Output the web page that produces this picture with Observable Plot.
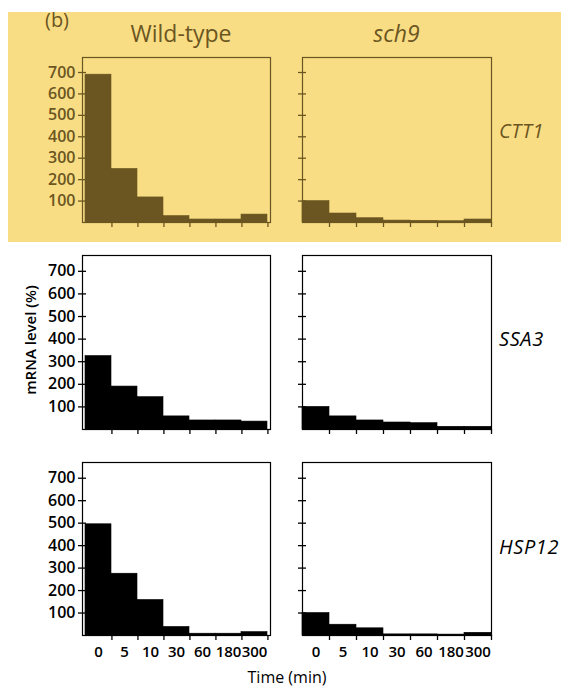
<!DOCTYPE html>
<html>
<head>
<meta charset="utf-8">
<script src="https://cdn.jsdelivr.net/npm/d3@7"></script>
<script src="https://cdn.jsdelivr.net/npm/@observablehq/plot@0.6"></script>
<style>
  html, body { margin: 0; padding: 0; background: #ffffff; }
  #root { position: relative; width: 568px; height: 689px; overflow: hidden; font-family: "Open Sans", sans-serif; }
  .lbl { position: absolute; line-height: 1; white-space: nowrap; transform: translate(-50%, -50%); }
  .lft { position: absolute; line-height: 1; white-space: nowrap; transform: translate(0, -50%); }
  .panel { position: absolute; }
  .panel svg { display: block; overflow: visible; }
</style>
</head>
<body>
<div id="root"></div>
<script>
// ---------------- data ----------------
const times = ["0", "5", "10", "30", "60", "180", "300"];
const genotypes = ["Wild-type", "sch9"];
const genes = ["CTT1", "SSA3", "HSP12"];
const yTicks = [100, 200, 300, 400, 500, 600, 700];

const wildTypeCTT1 = [690, 250, 117, 30, 14, 14, 37];
const sch9CTT1     = [100, 42, 20, 9, 8, 6, 14];
const wildTypeSSA3 = [325, 190, 143, 58, 40, 40, 35];
const sch9SSA3     = [100, 58, 40, 31, 28, 12, 12];
const wildTypeHSP12 = [495, 275, 158, 38, 8, 8, 15];
const sch9HSP12     = [100, 48, 32, 5, 5, 4, 12];

const yLabel = "mRNA level (%)";
const xLabel = "Time (min)";
const panelTag = "(b)";

// ---------------- layout ----------------
const olive = "#6b5621";
const yellow = "#f9dd85";
const black = "#000000";
const yMax = 770;

const rows = [
  {gene: genes[0], series: [wildTypeCTT1, sch9CTT1], top: 57, bottom: 222, color: olive, labelY: 131},
  {gene: genes[1], series: [wildTypeSSA3, sch9SSA3], top: 255, bottom: 429, color: black, labelY: 339},
  {gene: genes[2], series: [wildTypeHSP12, sch9HSP12], top: 462, bottom: 635, color: black, labelY: 547}
];
const cols = [
  {left: 82, right: 270, svgLeft: 0, svgRight: 284, showY: true},
  {left: 302, right: 491, svgLeft: 284, svgRight: 568, showY: false}
];

const root = document.getElementById("root");

// yellow highlight behind the first row
const bg = document.createElement("div");
Object.assign(bg.style, {position: "absolute", left: "8px", top: "12px", width: "553px", height: "230px", background: yellow});
root.appendChild(bg);

function addText(text, x, y, style, cls = "lbl") {
  const d = document.createElement("div");
  d.className = cls;
  d.textContent = text;
  d.style.left = x + "px";
  d.style.top = y + "px";
  Object.assign(d.style, style);
  root.appendChild(d);
  return d;
}

function drawPanel(values, row, col, isLastRow) {
  const mt = 10;
  const mb = isLastRow ? 40 : 12;
  const width = col.svgRight - col.svgLeft;
  const ml = col.left - col.svgLeft;
  const mr = col.svgRight - col.right;
  const height = (row.bottom - row.top) + mt + mb;
  const bw = (col.right - col.left) / times.length;
  const data = values.map((v, i) => ({time: times[i], value: v}));
  const marks = [
    Plot.barY(data, {x: "time", y: "value", fill: row.color, stroke: row.color, strokeWidth: 0.6}),
    Plot.frame({stroke: row.color, strokeWidth: 1.2}),
    Plot.axisY({
      ticks: yTicks, tickSize: 8, dx: 4, tickPadding: 3, label: null,
      tickFormat: col.showY ? (d => String(d)) : (() => ""),
      fontSize: 16, fontWeight: 600, stroke: row.color, fill: row.color, strokeWidth: 1.3
    }),
    Plot.axisX({tickSize: 5, dx: bw / 2, tickFormat: () => "", label: null, stroke: row.color, strokeWidth: 1.3})
  ];
  if (isLastRow) {
    marks.push(Plot.axisX({tickSize: 0, tickPadding: 11, label: null, fontSize: 15, fontWeight: 600, fill: row.color}));
  }
  const svg = Plot.plot({
    width, height,
    marginLeft: ml, marginRight: mr, marginTop: mt, marginBottom: mb,
    x: {type: "band", domain: times, padding: 0},
    y: {domain: [0, yMax]},
    style: {background: "transparent", color: row.color, fontFamily: "'Open Sans', sans-serif", overflow: "visible"},
    marks
  });
  const holder = document.createElement("div");
  holder.className = "panel";
  holder.style.left = col.svgLeft + "px";
  holder.style.top = (row.top - mt) + "px";
  holder.appendChild(svg);
  root.appendChild(holder);
}

rows.forEach((row, r) => {
  cols.forEach((col, c) => drawPanel(row.series[c], row, col, r === rows.length - 1));
  addText(row.gene, 499, row.labelY, {fontSize: "20px", fontStyle: "italic", fontWeight: "500", color: row.color, letterSpacing: "0.6px"}, "lft");
});

// column titles
addText(genotypes[0], (cols[0].left + cols[0].right) / 2 + 5, 33, {fontSize: "23px", color: olive});
addText(genotypes[1], (cols[1].left + cols[1].right) / 2, 33, {fontSize: "23px", color: olive, fontStyle: "italic"});
addText(panelTag, 57, 20, {fontSize: "20px", color: olive});

// axis titles
addText(yLabel, 30, 340, {fontSize: "15px", fontWeight: "600", color: black, transform: "translate(-50%, -50%) rotate(-90deg)"});
addText(xLabel, 287, 677, {fontSize: "16px", fontWeight: "500", color: black});
</script>
</body>
</html>
